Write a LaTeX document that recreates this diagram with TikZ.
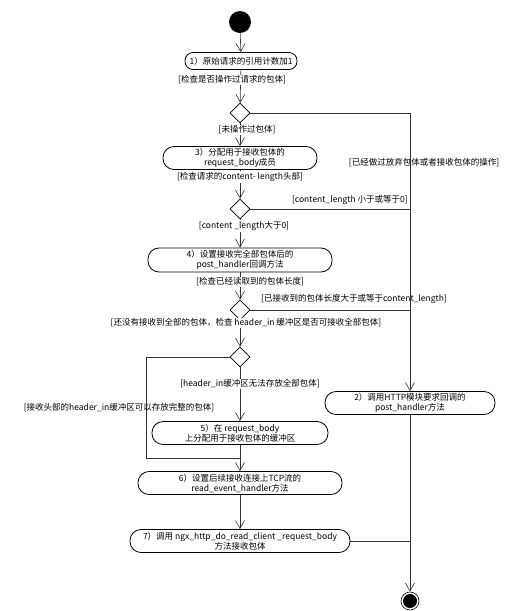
\documentclass[tikz,border=0pt]{standalone}
\usepackage{fontspec}
\setmainfont{Noto Sans CJK SC}
\usetikzlibrary{positioning}
\usetikzlibrary{shapes.geometric}
\usetikzlibrary{arrows.meta}
\newcommand{\lblfont}{\fontsize{8.5}{10}\selectfont}

\begin{document}
\begin{tikzpicture}[
	x=1pt, y=-1pt,
	act/.style={rounded corners=11pt, rectangle, draw, line width=0.8pt, minimum height=23pt, inner sep=1pt, align=center, font=\lblfont},
	dec/.style={diamond, draw, line width=0.8pt, minimum size=20pt, inner sep=0pt},
	guard/.style={inner sep=1pt, font=\lblfont},
	start/.style={circle, fill=black, minimum size=22pt, inner sep=0pt},
	fin/.style={circle, draw, line width=0.6pt, minimum size=18pt, inner sep=0pt,
		path picture={\fill (path picture bounding box.center) circle (7pt);}},
	arr/.style={-{Straight Barb[length=8pt,width=9pt]}, line width=0.6pt, black!80},
	link/.style={line width=0.6pt, black!80},
	]
	\useasboundingbox (0,0) rectangle (515,611);

	\node[start] (start) at (240,22) {};
	\node[act, minimum width=112pt, minimum height=17pt, rounded corners=8pt] (n1) at (241,61) {1）原始请求的引用计数加1};
	\node[dec] (d1) at (240,113) {};
	\node[act, minimum width=154pt] (n3) at (240,158) {3）分配用于接收包体的\\request\_body成员};
	\node[dec] (d2) at (240,209) {};
	\node[act, minimum width=184pt, minimum height=24pt] (n4) at (240,260) {4）设置接收完全部包体后的\\post\_handler回调方法};
	\node[dec] (d3) at (240,310) {};
	\node[dec] (d4) at (240,357) {};
	\node[act, minimum width=170pt] (n2) at (410,403) {2）调用HTTP模块要求回调的\\post\_handler方法};
	\node[act, minimum width=176pt] (n5) at (240,433) {5）在 request\_body\\上分配用于接收包体的缓冲区};
	\node[act, minimum width=204pt] (n6) at (240,483) {6）设置后续接收连接上TCP流的\\read\_event\_handler方法};
	\node[act, minimum width=220pt] (n7) at (240,541) {7）调用 ngx\_http\_do\_read\_client \_request\_body\\方法接收包体};
	\node[fin] (fin) at (410,601) {};
	\coordinate (lp) at (146,458);

	\draw[arr] (start) -- (n1);
	\draw[arr] (n1) -- (d1);
	\draw[arr] (d1) -- (n3);
	\draw[arr] (n3) -- (d2);
	\draw[arr] (d2) -- (n4);
	\draw[arr] (n4) -- (d3);
	\draw[arr] (d3) -- (d4);
	\draw[arr] (d4) -- (n5);
	\draw[arr] (n5) -- (n6);
	\draw[arr] (n6) -- (n7);

	\draw[arr] (d1) -| (n2);
	\draw[link] (d2) -- (d2 -| n2);
	\draw[link] (d3) -- (d3 -| n2);
	\draw[arr] (n2) -- (fin);
	\draw[link] (n7) -- (n7 -| n2);
	\draw[link] (d4) -| (lp) -- (lp -| n6);

	\node[guard, fill=white] (g1) at (232,80) {[检查是否操作过请求的包体]};
	\node[guard, fill=white] (g2) at (247,130) {[未操作过包体]};
	\node[guard] (g3) at (424,163) {[已经做过放弃包体或者接收包体的操作]};
	\node[guard, fill=white] (g4) at (240,177) {[检查请求的content- length头部]};
	\node[guard, anchor=east] (g5) at (409,200) {[content\_length 小于或等于0]};
	\node[guard, fill=white] (g6) at (244,226) {[content \_length大于0]};
	\node[guard, fill=white] (g7) at (250,282) {[检查已经读取到的包体长度]};
	\node[guard] (g8) at (354,299) {[已接收到的包体长度大于或等于content\_length]};
	\node[guard, fill=white] (g9) at (246,323) {[还没有接收到全部的包体，检查 header\_in 缓冲区是否可接收全部包体]};
	\node[guard, fill=white] (g10) at (250,384) {[header\_in缓冲区无法存放全部包体]};
	\node[guard] (g11) at (119,408) {[接收头部的header\_in缓冲区可以存放完整的包体]};

\end{tikzpicture}
\end{document}
